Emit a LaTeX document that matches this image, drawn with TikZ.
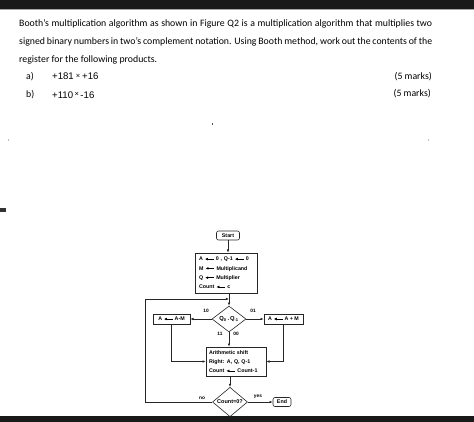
\documentclass[tikz,border=0pt]{standalone}
\usepackage{fontspec}
\setmainfont{Carlito}
\newfontfamily\arialf{Liberation Sans}
\usetikzlibrary{arrows.meta,shapes.geometric}
\newcommand\lar{\tikz[baseline={(0pt,-1.8pt)}]\draw[{Latex[length=3pt,width=2.8pt]}-,line width=0.6pt](0pt,0pt)--(9pt,0pt);}
\begin{document}
\begin{tikzpicture}[x=1pt,y=-1pt,
  txt/.style={inner sep=0pt, font=\fontsize{9.8}{11}\selectfont},
  num/.style={inner sep=0pt, font=\arialf\fontsize{9.6}{11}\selectfont},
  fc/.style={draw=black!85, line width=0.6pt, font=\arialf\bfseries\fontsize{5.3}{9.3}\selectfont, inner sep=0pt},
  fbox/.style={fc, rectangle},
  fdia/.style={fc, diamond},
  arr/.style={-{Latex[length=3.2pt,width=2.6pt]}, line width=0.6pt, draw=black!85},
  lab/.style={inner sep=0pt, font=\arialf\bfseries\fontsize{4.8}{5}\selectfont}
]
\useasboundingbox (0,0) rectangle (474,422);
% page bars
\fill[black!90] (0,0) rectangle (474,9);
\fill[black!35] (0,9) rectangle (474,10.3);
\fill[black!90] (0,416) rectangle (474,422);
% stray marks
\fill[black!70] (211.5,123.5) rectangle (213,125);
\fill[black!80] (0,208.5) rectangle (5.5,212);
\fill[black!25] (7.5,139.5) rectangle (9,141);
\fill[black!25] (427.5,139.5) rectangle (429,141);

% question text
\node[txt, anchor=base west] (l1) at (19,26.7) {\makebox[413pt][s]{Booth's multiplication algorithm as shown in Figure Q2 is a multiplication algorithm that multiplies two}};
\node[txt, anchor=base west] (l2) at (19,44.3) {\makebox[413pt][s]{signed binary numbers in two's complement notation. Using Booth method, work out the contents of the}};
\node[txt, anchor=base west] (l3) at (19,62.2) {register for the following products.};
\node[txt, anchor=base west] (la) at (26,80) {a)};
\node[num, anchor=base west] (qa) at (52,80) {+181\hspace{2pt}\raisebox{1.6pt}{\fontsize{7.5}{7.5}\selectfont ×}\hspace{2pt}+16};
\node[txt, anchor=base east] (ma) at (432,80) {(5 marks)};
\node[txt, anchor=base west] (lb) at (26,98) {b)};
\node[num, anchor=base west] (qb) at (52,98.5) {+110\hspace{1.5pt}\raisebox{2pt}{\fontsize{7.5}{7.5}\selectfont ×}\hspace{1.5pt}-16};
\node[txt, anchor=base east] (mb) at (431,97) {(5 marks)};

% flowchart
\node[fbox, rounded corners=2pt, minimum width=23pt, minimum height=9pt] (start) at (228,235.5) {Start};
\node[fbox, minimum width=62pt, minimum height=40pt, text width=54pt, align=left] (init) at (226,273)
  {A \lar\ 0 , Q-1 \lar\ 0\\ M \lar\ Multiplicand\\ Q \lar\ Multiplier\\ Count \lar\ c};
\node[fdia, minimum width=34pt, minimum height=26pt, font=\arialf\bfseries\fontsize{5.8}{6}\selectfont] (q) at (229,319) {Q\textsubscript{0}\,.\,Q\textsubscript{-1}};
\node[fbox, minimum width=37pt, minimum height=10pt] (sub) at (171.5,319) {A \lar\ A-M};
\node[fbox, minimum width=39pt, minimum height=10pt] (add) at (283.5,319) {A \lar\ A + M};
\node[fbox, minimum width=60pt, minimum height=29pt, text width=54pt, align=left] (shift) at (236,361.5)
  {Arithmetic shift\\ Right: A, Q, Q-1\\ Count \lar\ Count-1};
\node[fdia, minimum width=35pt, minimum height=24pt, font=\arialf\bfseries\fontsize{5.5}{6}\selectfont] (cnt) at (230,402) {Count=0?};
\node[fbox, rounded corners=2pt, minimum width=18pt, minimum height=9pt] (end) at (282,402) {End};

\coordinate (j) at (229,299);
\coordinate (lt) at (145,299);

\draw[arr] (start.south) -- (start.south |- init.north);
\draw[arr] (init.south -| q.north) -- (q.north);
\draw[arr] (cnt.west) -| (lt) -- (j);
\draw[arr] (q.west) -- (sub.east);
\draw[arr] (q.east) -- (add.west);
\draw[arr] (q.south) -- (q.south |- shift.north);
\draw[arr] (sub.south) |- (shift.west);
\draw[arr] (add.south) |- (shift.east);
\draw[arr] (shift.south -| cnt.north) -- (cnt.north);
\draw[arr] (cnt.east) -- (end.west);

\node[lab] (t10) at (206,311) {10};
\node[lab] (t01) at (253,311) {01};
\node[lab] (t11) at (220,334) {11};
\node[lab] (t00) at (236,334) {00};
\node[lab] (tno) at (202,398.5) {no};
\node[lab] (tyes) at (258,397) {yes};
\end{tikzpicture}
\end{document}
